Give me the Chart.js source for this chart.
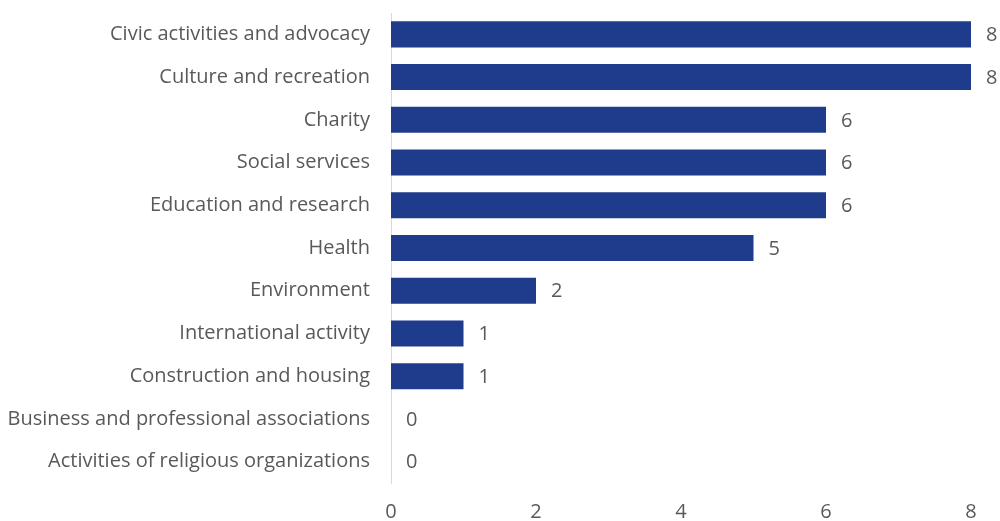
<!DOCTYPE html>
<html>
<head>
<meta charset="utf-8">
<script src="https://cdn.jsdelivr.net/npm/chart.js@4/dist/chart.umd.min.js"></script>
<style>
  html, body { margin: 0; padding: 0; background: #fff; }
  #wrap { width: 1000px; height: 521px; }
</style>
</head>
<body>
<div id="wrap"><canvas id="chart"></canvas></div>
<script>
// === DATA ===
const categories = [
  "Civic activities and advocacy",
  "Culture and recreation",
  "Charity",
  "Social services",
  "Education and research",
  "Health",
  "Environment",
  "International activity",
  "Construction and housing",
  "Business and professional associations",
  "Activities of religious organizations"
];
const values = [8, 8, 6, 6, 6, 5, 2, 1, 1, 0, 0];
const xTicks = [0, 2, 4, 6, 8];

const textColor = "#595959";
const fontFamily = "'Open Sans', sans-serif";
const fontSize = 20;

// label angka di ujung batang
const valueLabels = {
  id: "valueLabels",
  afterDatasetsDraw(chart) {
    const ctx = chart.ctx;
    const meta = chart.getDatasetMeta(0);
    ctx.save();
    ctx.font = fontSize + "px " + fontFamily;
    ctx.fillStyle = textColor;
    ctx.textBaseline = "middle";
    ctx.textAlign = "left";
    meta.data.forEach((bar, i) => {
      ctx.fillText(String(values[i]), bar.x + 15, bar.y + 1);
    });
    ctx.restore();
  }
};

new Chart(document.getElementById("chart"), {
  type: "bar",
  data: {
    labels: categories,
    datasets: [{
      data: values,
      backgroundColor: "#1F3C8C",
      barPercentage: 0.61,
      categoryPercentage: 1
    }]
  },
  options: {
    indexAxis: "y",
    responsive: true,
    maintainAspectRatio: false,
    animation: false,
    layout: { padding: { top: 13, right: 29, left: 0, bottom: 0 } },
    plugins: { legend: { display: false }, tooltip: { enabled: false } },
    scales: {
      x: {
        min: 0, max: 8,
        afterBuildTicks: (axis) => { axis.ticks = xTicks.map(v => ({ value: v })); },
        grid: { display: false, drawTicks: false },
        border: { display: false },
        ticks: { color: textColor, font: { family: fontFamily, size: fontSize }, padding: 17 },
        afterFit: (axis) => { axis.height = 38; axis.paddingLeft = 0; axis.paddingRight = 0; }
      },
      y: {
        grid: { display: false, drawTicks: false },
        border: { display: true, color: "#D9D9D9", width: 1 },
        ticks: { color: textColor, font: { family: fontFamily, size: fontSize }, padding: 21 },
        afterFit: (axis) => { axis.width = 391; axis.paddingTop = 0; axis.paddingBottom = 0; }
      }
    }
  },
  plugins: [valueLabels]
});
</script>
</body>
</html>
